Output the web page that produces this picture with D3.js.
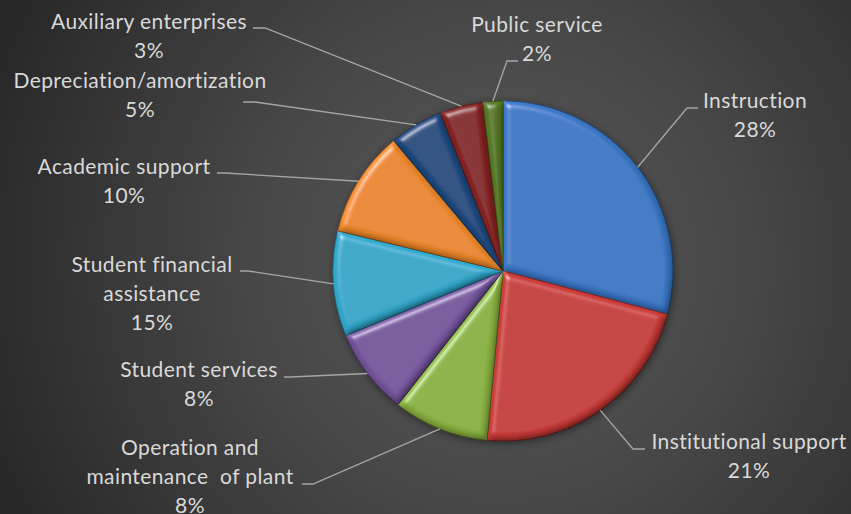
<!DOCTYPE html>
<html><head><meta charset="utf-8">
<script src="https://cdn.jsdelivr.net/npm/d3@7"></script>
<style>html,body{margin:0;padding:0;background:#333;overflow:hidden}</style>
</head><body>
<svg id="chart" width="851" height="514"></svg>
<script>
// ---- data ----
const categories = ["Instruction","Institutional support","Operation and maintenance  of plant","Student services","Student financial assistance","Academic support","Depreciation/amortization","Auxiliary enterprises","Public service"];
const shares = [29.1, 22.4, 9.1, 8.2, 10.0, 10.1, 5.1, 4.1, 1.9];           // slice sizes as drawn
const pctLabels = ["28%","21%","8%","8%","15%","10%","5%","3%","2%"];        // percentages as printed
const labelLines = [["Instruction"],["Institutional support"],["Operation and","maintenance  of plant"],["Student services"],["Student financial","assistance"],["Academic support"],["Depreciation/amortization"],["Auxiliary enterprises"],["Public service"]];
const colors = ["#3c7bcb","#cd3d3a","#8fb843","#7a59a2","#33acd0","#f38c2c","#1e4c83","#8a2424","#5a7c24"];

// ---- layout (positions, not data) ----
const W = 851, H = 514, cx = 503, cy = 271, R = 170;
const labelLayout = [
  {x:755, y:108, lx:698, ly:108, ex:687},
  {x:749, y:449, lx:645, ly:449, ex:633},
  {x:190, y:455, lx:302, ly:484, ex:313},
  {x:199, y:377, lx:284, ly:377, ex:290},
  {x:152, y:272, lx:240, ly:271, ex:248},
  {x:124, y:174, lx:217, ly:173, ex:225},
  {x:140, y:88,  lx:243, ly:102, ex:255},
  {x:149, y:29,  lx:253, ly:28,  ex:265},
  {x:537, y:32,  lx:518, ly:61,  ex:507}
];
const lineH = 28.8;

const svg = d3.select("#chart");
const defs = svg.append("defs");
const bg = defs.append("radialGradient").attr("id","bg").attr("gradientUnits","userSpaceOnUse")
  .attr("cx",500).attr("cy",262).attr("r",560);
bg.append("stop").attr("offset",0).attr("stop-color","#5a5a5a");
bg.append("stop").attr("offset",0.45).attr("stop-color","#474747");
bg.append("stop").attr("offset",1).attr("stop-color","#262626");
svg.append("rect").attr("width",W).attr("height",H).attr("fill","url(#bg)");

// bevel filter
const f = defs.append("filter").attr("id","bevel").attr("x","-10%").attr("y","-10%").attr("width","120%").attr("height","120%");
f.append("feGaussianBlur").attr("in","SourceAlpha").attr("stdDeviation",3.5).attr("result","blur");
const dl = f.append("feDiffuseLighting").attr("in","blur").attr("surfaceScale",3.5).attr("diffuseConstant",1)
  .attr("lighting-color","#fff").attr("result","diff");
dl.append("feDistantLight").attr("azimuth",235).attr("elevation",55);
f.append("feComposite").attr("in","SourceGraphic").attr("in2","diff").attr("operator","arithmetic")
  .attr("k1",1.1).attr("k2",0).attr("k3",0).attr("k4",0).attr("result","lit");
const sl = f.append("feSpecularLighting").attr("in","blur").attr("surfaceScale",3.5).attr("specularConstant",0.4)
  .attr("specularExponent",60).attr("lighting-color","#fff").attr("result","spec");
sl.append("feDistantLight").attr("azimuth",235).attr("elevation",55);
f.append("feComposite").attr("in","spec").attr("in2","SourceAlpha").attr("operator","in").attr("result","specIn");
f.append("feComposite").attr("in","lit").attr("in2","specIn").attr("operator","arithmetic")
  .attr("k1",0).attr("k2",1).attr("k3",1).attr("k4",0);

// drop shadow
const sh = defs.append("filter").attr("id","shadow").attr("x","-20%").attr("y","-20%").attr("width","140%").attr("height","140%");
sh.append("feGaussianBlur").attr("in","SourceAlpha").attr("stdDeviation",4).attr("result","b");
sh.append("feOffset").attr("in","b").attr("dx",1).attr("dy",2).attr("result","o");
sh.append("feComponentTransfer").attr("in","o").append("feFuncA").attr("type","linear").attr("slope",0.5);

const data = categories.map((c,i)=>({name:c, value:shares[i], pct:pctLabels[i], lines:labelLines[i], color:colors[i], lay:labelLayout[i]}));
const pie = d3.pie().value(d=>d.value).sort(null).startAngle(0).endAngle(2*Math.PI);
const arcs = pie(data);
const arc = d3.arc().innerRadius(0).outerRadius(R);

const g = svg.append("g").attr("transform",`translate(${cx},${cy})`);
g.append("circle").attr("r",R).attr("fill","#000").attr("filter","url(#shadow)");
g.selectAll("path.slice").data(arcs).join("path").attr("class","slice")
  .attr("d",arc).attr("fill",d=>d.data.color)
  .attr("stroke",d=>d3.color(d.data.color).darker(1.3)).attr("stroke-width",0.8)
  .attr("filter","url(#bevel)");

// leader lines
const lead = svg.append("g");
arcs.forEach(a=>{
  const m = (a.startAngle+a.endAngle)/2;
  const px = cx + R*Math.sin(m), py = cy - R*Math.cos(m);
  const L = a.data.lay;
  lead.append("polyline").attr("points",`${L.lx},${L.ly} ${L.ex},${L.ly} ${px},${py}`)
    .attr("fill","none").attr("stroke","#a6a6a6").attr("stroke-width",1.3);
});

// labels
const tg = svg.append("g").attr("font-family","Lato, 'Open Sans', sans-serif").attr("font-size",21)
  .attr("letter-spacing",0.4).attr("fill","#d9d9d9").attr("text-anchor","middle");
data.forEach(d=>{
  const t = tg.append("text").attr("x",d.lay.x).attr("y",d.lay.y);
  const lines = d.lines.concat([d.pct]);
  lines.forEach((s,i)=>t.append("tspan").attr("x",d.lay.x).attr("y",d.lay.y+i*lineH).style("white-space","pre").text(s));
});
</script>
</body></html>
